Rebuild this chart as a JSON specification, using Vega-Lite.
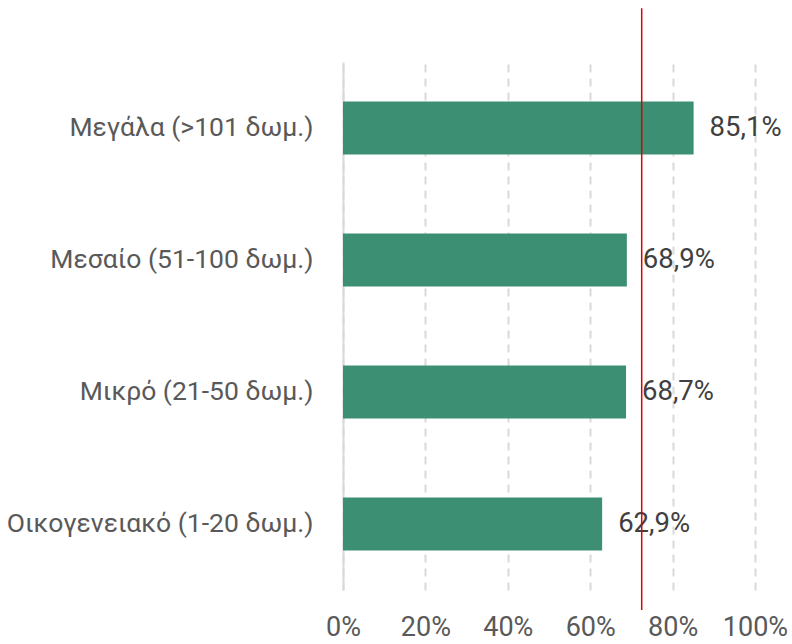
{
  "$schema": "https://vega.github.io/schema/vega-lite/v6.json",
  "width": 412,
  "height": 528,
  "autosize": {"type": "none"},
  "padding": {"left": 343, "top": 62, "right": 37, "bottom": 54},
  "config": {
    "view": {"stroke": null},
    "font": "Roboto",
    "locale": {"number": {"decimal": ",", "thousands": ".", "grouping": [3], "currency": ["", " €"]}}
  },
  "data": {
    "values": [
      {"category": "Μεγάλα (>101 δωμ.)", "value": 0.851},
      {"category": "Μεσαίο (51-100 δωμ.)", "value": 0.689},
      {"category": "Μικρό (21-50 δωμ.)", "value": 0.687},
      {"category": "Οικογενειακό (1-20 δωμ.)", "value": 0.629}
    ]
  },
  "layer": [
    {
      "encoding": {
        "y": {
          "field": "category", "type": "nominal", "sort": null,
          "scale": {"paddingInner": 0.6, "paddingOuter": 0.3},
          "axis": {"title": null, "ticks": false, "domainColor": "#d9d9d9", "domainWidth": 2, "labelPadding": 30, "labelFontSize": 26.5, "labelColor": "#595959", "labelLimit": 400}
        },
        "x": {
          "field": "value", "type": "quantitative",
          "scale": {"domain": [0, 1]},
          "axis": {"title": null, "values": [0, 0.2, 0.4, 0.6, 0.8, 1], "format": ".0%", "domain": false, "ticks": false, "labelOverlap": false, "labelFlush": false, "labelPadding": 24, "labelFontSize": 27, "labelColor": "#595959", "gridColor": "#d9d9d9", "gridWidth": 2, "gridDash": [8, 6]}
        }
      },
      "layer": [
        {"mark": {"type": "bar", "color": "#3d8f73"}},
        {
          "mark": {"type": "text", "align": "left", "baseline": "middle", "dx": 16, "fontSize": 27.5, "color": "#404040"},
          "encoding": {"text": {"field": "value", "type": "quantitative", "format": ".1%"}}
        }
      ]
    },
    {
      "data": {"values": [{"avg": 0.725, "top": 1.102, "bottom": -0.038}]},
      "mark": {"type": "rule", "color": "#e00000", "strokeWidth": 1.5, "clip": false},
      "encoding": {
        "x": {"field": "avg", "type": "quantitative"},
        "y": {"field": "top", "type": "quantitative", "scale": {"domain": [0, 1]}, "axis": null},
        "y2": {"field": "bottom"}
      }
    }
  ],
  "resolve": {"scale": {"y": "independent"}}
}
